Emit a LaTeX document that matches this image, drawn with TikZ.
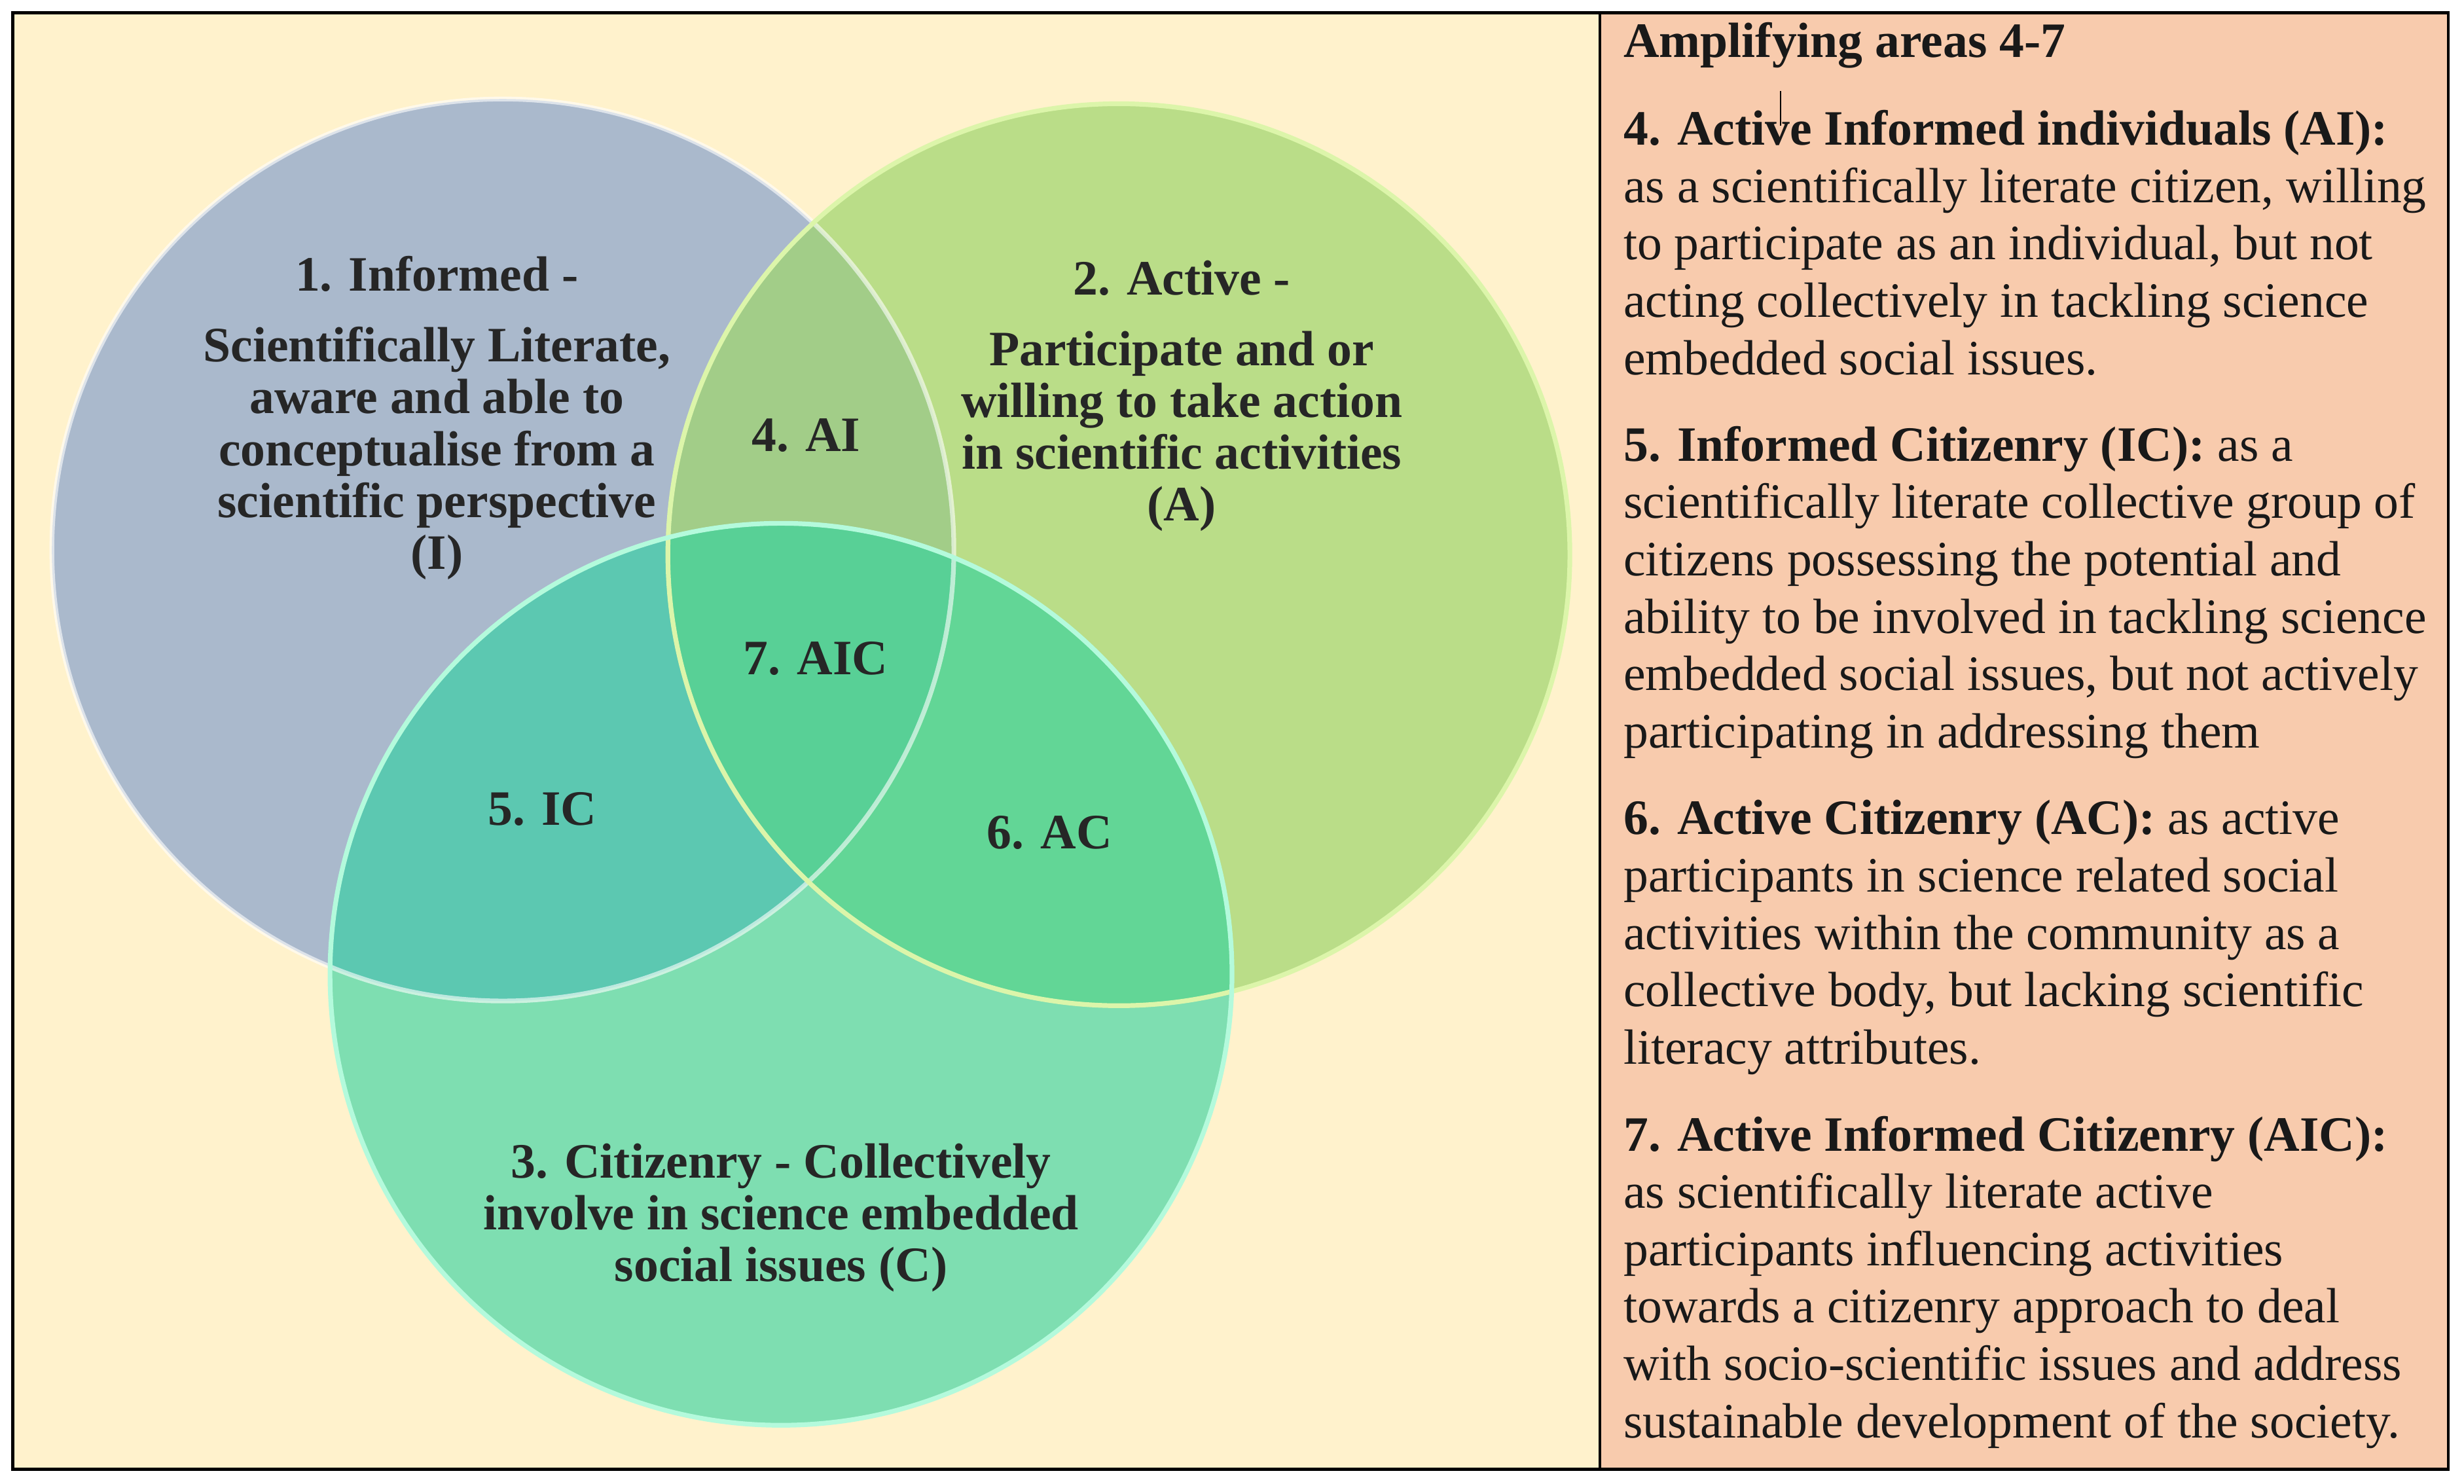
\documentclass[tikz,border=0pt]{standalone}
\usepackage{fontspec}
\setmainfont{Liberation Serif}
\definecolor{bgL}{RGB}{255,242,204}
\definecolor{bgR}{RGB}{248,203,173}
\definecolor{cBlue}{RGB}{138,164,204}
\definecolor{cGreen}{RGB}{160,214,110}
\definecolor{cTeal}{RGB}{40,210,160}
\definecolor{eGreen}{RGB}{220,245,170}
\definecolor{eTeal}{RGB}{180,250,220}
\begin{document}
\begin{tikzpicture}[x=1pt,y=-1pt,
  lbl/.style={font=\fontsize{31.5}{33}\selectfont\bfseries, align=center, text=black!85},
  rt/.style={font=\fontsize{31.5}{36.5}\selectfont, align=left, anchor=north west, inner sep=0pt, text=black!90},
  circ/.style={fill opacity=0.72}]
\useasboundingbox (0,0) rectangle (1568,944);
\fill[white] (0,0) rectangle (1568,944);
\fill[bgL] (8,8) rectangle (1018,935);
\fill[bgR] (1018,8) rectangle (1558,935);
\draw[line width=2pt] (8,8) rectangle (1558,935);
\draw[line width=1.5pt] (1018,8) -- (1018,935);
% circles
\fill[circ, cBlue] (320,350) circle (287);
\fill[circ, cGreen] (712,353) circle (287);
\fill[circ, cTeal, fill opacity=0.6] (497,620) circle (287);
\draw[white, line width=3pt, opacity=0.6] (320,350) circle (287);
\draw[eGreen, line width=3pt] (712,353) circle (287);
\draw[eTeal, line width=3pt] (497,620) circle (287);
% labels
\node[lbl] (i) at (278,266) {1. Informed -\\[12pt]Scientifically Literate,\\aware and able to\\conceptualise from a\\scientific perspective\\(I)};
\node[lbl] (a) at (752,252) {2. Active -\\[12pt]Participate and or\\willing to take action\\in scientific activities\\(A)};
\node[lbl] (c) at (497,775) {3. Citizenry - Collectively\\involve in science embedded\\social issues (C)};
\node[lbl] (ai) at (513,277) {4. AI};
\node[lbl] (ic) at (345,515) {5. IC};
\node[lbl] (ac) at (668,530) {6. AC};
\node[lbl] (aic) at (519,419) {7. AIC};
% right text
\node[rt] (h) at (1033,14) {\textbf{Amplifying areas 4-7}};
\node[rt] (t4) at (1033,70) {\textbf{4. Active Informed individuals (AI):}\\as a scientifically literate citizen, willing\\to participate as an individual, but not\\acting collectively in tackling science\\embedded social issues.};
\node[rt] (t5) at (1033,271) {\textbf{5. Informed Citizenry (IC):} as a\\scientifically literate collective group of\\citizens possessing the potential and\\ability to be involved in tackling science\\embedded social issues, but not actively\\participating in addressing them};
\node[rt] (t6) at (1033,509) {\textbf{6. Active Citizenry (AC):} as active\\participants in science related social\\activities within the community as a\\collective body, but lacking scientific\\literacy attributes.};
\node[rt] (t7) at (1033,710) {\textbf{7. Active Informed Citizenry (AIC):}\\as scientifically literate active\\participants influencing activities\\towards a citizenry approach to deal\\with socio-scientific issues and address\\sustainable development of the society.};
\draw[line width=0.8pt] (1133,58) -- (1133,80);
\end{tikzpicture}
\end{document}
